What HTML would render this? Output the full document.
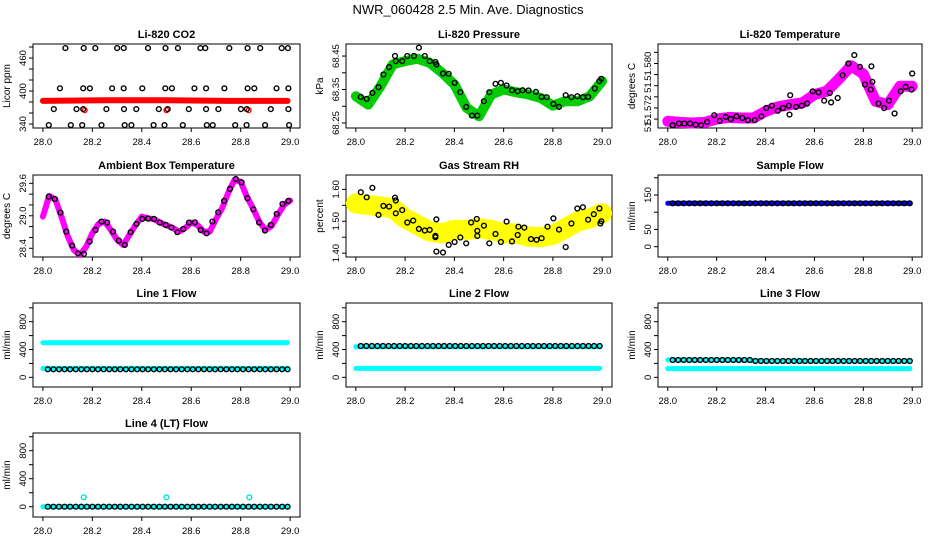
<!DOCTYPE html>
<html><head><meta charset="utf-8"><style>
html,body{margin:0;padding:0;background:#fff;}
svg{display:block;font-family:"Liberation Sans",Arial,sans-serif;}
</style></head><body>
<svg id="chart" width="936" height="540" viewBox="0 0 936 540" xmlns="http://www.w3.org/2000/svg">
<rect x="0" y="0" width="936" height="540" fill="#fff"/>
<text x="468" y="14" text-anchor="middle" font-size="13">NWR_060428  2.5 Min. Ave. Diagnostics</text>
</svg>
<script>
// ---------- data ----------
const xTicks=[28.0,28.2,28.4,28.6,28.8,29.0];
const xTickLabels=["28.0","28.2","28.4","28.6","28.8","29.0"];

const co2Times=[28.091,28.165,28.212,28.300,28.327,28.425,28.496,28.546,28.637,28.657,28.754,28.828,28.879,28.966,28.991,
28.069,28.163,28.190,28.280,28.327,28.402,28.495,28.522,28.613,28.660,28.734,28.828,28.855,28.945,28.993,
28.044,28.136,28.163,28.257,28.328,28.378,28.469,28.505,28.590,28.660,28.710,28.801,28.825,28.922,28.993,
28.024,28.113,28.159,28.237,28.331,28.358,28.448,28.492,28.566,28.663,28.687,28.778,28.824,28.899,28.996];
const co2Vals=[478,478,478,478,478,478,478,478,478,478,478,478,478,478,478,
405,405,405,405,405,405,405,405,405,405,405,405,405,405,405,
367,367,367,367,367,367,367,367,367,367,367,367,367,367,367,
338,338,338,338,338,338,338,338,338,338,338,338,338,338,338];
const co2RedTimes=[28.0,28.25,28.5,28.75,28.99];
const co2RedVals=[382,383,383,382,382];
const co2RedOutTimes=[28.169,28.5,28.832];
const co2RedOutVals=[365,365,365];

const bandTimes=[28.0,28.05,28.1,28.15,28.2,28.25,28.3,28.35,28.4,28.45,28.5,28.55,28.6,28.65,28.7,28.75,28.8,28.85,28.9,28.95,29.0];
const presGreen=[68.330,68.305,68.36,68.425,68.435,68.442,68.43,68.40,68.365,68.295,68.27,68.335,68.35,68.342,68.335,68.325,68.302,68.315,68.315,68.33,68.375];
const presTimes=[28.020,28.044,28.067,28.092,28.112,28.135,28.159,28.162,28.188,28.209,28.236,28.256,28.280,28.300,28.323,28.327,28.354,28.377,28.401,28.424,28.448,28.471,28.493,28.520,28.542,28.567,28.589,28.612,28.634,28.657,28.677,28.701,28.731,28.754,28.775,28.802,28.825,28.852,28.875,28.899,28.922,28.943,28.970,28.989,28.996];
const presVals=[68.328,68.322,68.340,68.357,68.395,68.417,68.450,68.435,68.435,68.450,68.450,68.475,68.450,68.435,68.432,68.425,68.398,68.397,68.370,68.342,68.298,68.272,68.272,68.315,68.342,68.367,68.370,68.362,68.348,68.345,68.348,68.347,68.343,68.328,68.327,68.307,68.298,68.333,68.327,68.330,68.327,68.328,68.353,68.375,68.382];

const tempMag=[51.5696,51.5694,51.5693,51.5694,51.5700,51.5703,51.5702,51.5702,51.5714,51.5722,51.5726,51.5729,51.5744,51.5750,51.5772,51.5796,51.5781,51.5732,51.5726,51.5759,51.5759];
const tempTimes=[28.020,28.046,28.068,28.091,28.114,28.136,28.161,28.190,28.213,28.237,28.258,28.281,28.305,28.328,28.356,28.383,28.403,28.426,28.450,28.471,28.495,28.501,28.498,28.525,28.548,28.570,28.593,28.617,28.640,28.663,28.668,28.695,28.715,28.739,28.763,28.786,28.807,28.833,28.830,28.837,28.862,28.885,28.905,28.928,28.953,28.973,29.000,28.997];
const tempVals=[51.5689,51.5692,51.5692,51.5692,51.5690,51.5689,51.5695,51.5707,51.5697,51.5704,51.5700,51.5705,51.5702,51.5698,51.5698,51.5705,51.5720,51.5724,51.5715,51.5720,51.5724,51.5743,51.5708,51.5722,51.5724,51.5728,51.5750,51.5748,51.5733,51.5747,51.5730,51.5738,51.5779,51.5800,51.5815,51.5794,51.5762,51.5795,51.5753,51.5767,51.5728,51.5720,51.5733,51.5710,51.5750,51.5758,51.5782,51.5753];

const ambTimes=[28.0,28.025,28.05,28.075,28.1,28.125,28.15,28.175,28.2,28.225,28.25,28.275,28.3,28.325,28.35,28.375,28.4,28.425,28.45,28.475,28.5,28.525,28.55,28.575,28.6,28.625,28.65,28.675,28.7,28.725,28.75,28.775,28.8,28.825,28.85,28.875,28.9,28.925,28.95,28.975,29.0];
const ambMag=[28.984,29.366,29.304,28.984,28.628,28.370,28.276,28.430,28.676,28.850,28.892,28.738,28.554,28.462,28.646,28.830,28.984,28.954,28.936,28.874,28.824,28.776,28.708,28.770,28.874,28.830,28.708,28.708,28.936,29.138,29.428,29.662,29.630,29.354,29.138,28.892,28.738,28.812,29.016,29.200,29.280];
const ambVals=[29.354,29.310,29.058,28.708,28.450,28.308,28.296,28.524,28.738,28.892,28.874,28.708,28.542,28.462,28.696,28.850,28.942,28.948,28.942,28.874,28.830,28.782,28.696,28.756,28.874,28.880,28.738,28.676,28.892,29.064,29.274,29.496,29.680,29.618,29.324,29.120,28.874,28.726,28.830,29.034,29.218,29.274];

const rhYellow=[1.556,1.551,1.546,1.541,1.509,1.489,1.468,1.462,1.473,1.473,1.478,1.473,1.462,1.462,1.452,1.450,1.457,1.478,1.499,1.509,1.525];
const rhTimes=[28.020,28.044,28.067,28.092,28.112,28.135,28.159,28.162,28.162,28.188,28.209,28.233,28.256,28.280,28.300,28.323,28.323,28.327,28.327,28.354,28.377,28.401,28.424,28.448,28.468,28.491,28.493,28.493,28.520,28.542,28.567,28.589,28.612,28.634,28.657,28.660,28.684,28.711,28.734,28.754,28.778,28.802,28.825,28.852,28.875,28.899,28.922,28.943,28.966,28.989,28.993,28.997];
const rhVals=[1.591,1.575,1.605,1.520,1.548,1.546,1.574,1.565,1.525,1.535,1.496,1.502,1.476,1.471,1.473,1.454,1.450,1.506,1.405,1.402,1.426,1.435,1.449,1.431,1.496,1.507,1.470,1.454,1.486,1.431,1.460,1.435,1.499,1.437,1.457,1.483,1.480,1.444,1.442,1.447,1.483,1.509,1.474,1.419,1.493,1.540,1.544,1.505,1.522,1.540,1.493,1.500];

const flowBandTimes=[28.0,28.1,28.2,28.3,28.4,28.5,28.6,28.7,28.8,28.9,28.99];
const sampleBlue=[126,126,126,126,126,126,126,126,126,126,126];
const sampleBlack=[126,126,126,126,126,126,126,126,126,126,126,126,126,126,126,126,126,126,126,126,126,126,126,126,126,126,126,126,126,126,126,126,126,126,126,126,126,126,126,126,126,126,126,126];
const line1CyanHi=[498,498,498,498,498,498,498,498,498,498,498];
const line1CyanLo=[129,129,129,129,129,129,129,129,129,129,129];
const line1Black=[115,115,115,115,115,115,115,115,115,115,115,115,115,115,115,115,115,115,115,115,115,115,115,115,115,115,115,115,115,115,115,115,115,115,115,115,115,115,115,115,115,115,115,115];
const line2CyanHi=[441,441,441,441,441,441,441,441,441,441,441];
const line2CyanLo=[129,129,129,129,129,129,129,129,129,129,129];
const line2Black=[450,450,450,450,450,450,450,450,450,450,450,450,450,450,450,450,450,450,450,450,450,450,450,450,450,450,450,450,450,450,450,450,450,450,450,450,450,450,450,450,450,450,450,450];
const line3CyanHi=[249,249,249,249,235,235,235,235,235,235,235];
const line3CyanLo=[125,125,125,125,125,125,125,125,125,125,125];
const line3Black=[249,249,249,249,249,249,249,249,249,249,249,249,249,249,249,235,235,235,235,235,235,235,235,235,235,235,235,235,235,235,235,235,235,235,235,235,235,235,235,235,235,235,235,235];
const line4Cyan=[0,0,0,0,0,0,0,0,0,0,0];
const line4Black=[0,0,0,0,0,0,0,0,0,0,0,0,0,0,0,0,0,0,0,0,0,0,0,0,0,0,0,0,0,0,0,0,0,0,0,0,0,0,0,0,0,0,0,0];
const line4OutTimes=[28.165,28.5,28.835];
const line4OutVals=[134,134,134];

const co2YTicks=[340,360,380,400,420,440,460,480];
const co2YLabels=["340","","","400","","","460",""];
const presYTicks=[68.25,68.30,68.35,68.40,68.45];
const presYLabels=["68.25","","68.35","","68.45"];
const tempYTicks=[51.570,51.572,51.574,51.576,51.578,51.580,51.582];
const tempYLabelVals=[51.5686,51.5717,51.5759,51.5795];
const tempYLabels=["51","51.572","51.","51.580"];
const ambYTicks=[28.4,28.6,28.8,29.0,29.2,29.4,29.6];
const ambYLabels=["28.4","","","29.0","","","29.6"];
const rhYTicks=[1.40,1.45,1.50,1.55,1.60];
const rhYLabels=["1.40","","1.50","","1.60"];
const sfYTicks=[0,50,100,150,200];
const sfYLabels=["0","50","","150",""];
const flowYTicks=[0,200,400,600,800,1000];
const flowYLabels=["0","","400","","800",""];

// ---------- drawing ----------
const svg=document.getElementById('chart');
const NS='http://www.w3.org/2000/svg';
function el(tag,parent){const e=document.createElementNS(NS,tag);parent.appendChild(e);return e;}
function seqTimes(n){const a=[];for(let i=0;i<n;i++)a.push(28.02+i*0.97/(n-1));return a;}

function makePanel(name,title,ytitle,box,ymin,ymax,yt,yl){
  const g=el('g',svg);
  
  
  const xmin=27.96,xmax=29.04;
  const sx=v=>box[0]+(v-xmin)/(xmax-xmin)*(box[2]-box[0]);
  const sy=v=>box[3]-(v-ymin)/(ymax-ymin)*(box[3]-box[1]);
  const r=el('rect',g);
  
  
  r.setAttribute('x',box[0]);r.setAttribute('y',box[1]);r.setAttribute('width',box[2]-box[0]);r.setAttribute('height',box[3]-box[1]);
  r.setAttribute('fill','none');r.setAttribute('stroke','#000');r.setAttribute('stroke-width','1');
  const t=el('text',g);
  
  
  t.setAttribute('x',(box[0]+box[2])/2);t.setAttribute('y',box[1]-6);t.setAttribute('text-anchor','middle');
  t.setAttribute('font-size','11');t.setAttribute('font-weight','bold');t.textContent=title;
  const yt2=el('text',g);
  
  
  const cy=(box[1]+box[3])/2, tx=box[0]-23;
  yt2.setAttribute('x',tx);yt2.setAttribute('y',cy);yt2.setAttribute('text-anchor','middle');
  yt2.setAttribute('font-size','10');yt2.setAttribute('transform','rotate(-90 '+tx+' '+cy+')');yt2.textContent=ytitle;
  // x axis
  xTicks.forEach((v,i)=>{
    const x=sx(v);
    const l=el('line',g);
    
    
    l.setAttribute('x1',x);l.setAttribute('x2',x);l.setAttribute('y1',box[3]);l.setAttribute('y2',box[3]+4);l.setAttribute('stroke','#000');
    const tl=el('text',g);
    
    
    tl.setAttribute('x',x);tl.setAttribute('y',box[3]+17);tl.setAttribute('text-anchor','middle');tl.setAttribute('font-size','9.5');
    tl.textContent=xTickLabels[i];
  });
  yt.forEach((v,i)=>{
    const y=sy(v);
    const l=el('line',g);
    
    
    l.setAttribute('x1',box[0]);l.setAttribute('x2',box[0]-4);l.setAttribute('y1',y);l.setAttribute('y2',y);l.setAttribute('stroke','#000');
    if(yl && yl[i]){
      const tl=el('text',g);
      
      
      const lx=box[0]-7;
      tl.setAttribute('x',lx);tl.setAttribute('y',y);tl.setAttribute('text-anchor','middle');tl.setAttribute('font-size','9.5');
      tl.setAttribute('transform','rotate(-90 '+lx+' '+y+')');tl.textContent=yl[i];
    }
  });
  return {g,sx,sy,box};
}
function band(p,times,vals,color,w,name){
  const pl=el('polyline',p.g);
  
  
  pl.setAttribute('points',times.map((t,i)=>p.sx(t).toFixed(1)+','+p.sy(vals[i]).toFixed(1)).join(' '));
  pl.setAttribute('fill','none');pl.setAttribute('stroke',color);pl.setAttribute('stroke-width',w);
  pl.setAttribute('stroke-linejoin','round');pl.setAttribute('stroke-linecap','round');
}
function points(p,times,vals,color,name){
  const gg=el('g',p.g);
  
  
  times.forEach((t,i)=>{
    const c=el('circle',gg);
    
    
    c.setAttribute('cx',p.sx(t).toFixed(1));c.setAttribute('cy',p.sy(vals[i]).toFixed(1));c.setAttribute('r','2.4');
    c.setAttribute('fill','none');c.setAttribute('stroke',color);c.setAttribute('stroke-width','1.4');
  });
}
const C1=33,C1R=300,C2=346,C2R=612,C3=658,C3R=922;
const R1=[44,128],R2=[175,257],R3=[303,387],R4=[433,517];

let p;
p=makePanel('panel-co2','Li-820 CO2','Licor ppm',[C1,R1[0],C1R,R1[1]],332.7,485.5,co2YTicks,co2YLabels);
band(p,co2RedTimes,co2RedVals,'#ff0000',6,'co2-red-series');
points(p,co2RedOutTimes,co2RedOutVals,'#ff0000','co2-red-outliers');
points(p,co2Times,co2Vals,'#000','co2-black-series');

p=makePanel('panel-pressure','Li-820 Pressure','kPa',[C2,R1[0],C2R,R1[1]],68.235,68.486,presYTicks,presYLabels);
band(p,bandTimes,presGreen,'#00cc00',10,'pressure-green-series');
points(p,presTimes,presVals,'#000','pressure-black-series');

p=makePanel('panel-temperature','Li-820 Temperature','degrees C',[C3,R1[0],C3R,R1[1]],51.5684,51.5835,tempYTicks,null);
tempYLabelVals.forEach((v,i)=>{
  const y=p.sy(v),lx=C3-7;
  const tl=el('text',p.g);
  
  
  tl.setAttribute('x',lx);tl.setAttribute('y',y);tl.setAttribute('text-anchor','middle');tl.setAttribute('font-size','9.5');
  tl.setAttribute('transform','rotate(-90 '+lx+' '+y+')');tl.textContent=tempYLabels[i];
});
band(p,bandTimes,tempMag,'#ff00ff',11,'temperature-magenta-series');
points(p,tempTimes,tempVals,'#000','temperature-black-series');

p=makePanel('panel-ambient','Ambient Box Temperature','degrees C',[C1,R2[0],C1R,R2[1]],28.239,29.753,ambYTicks,ambYLabels);
band(p,ambTimes,ambMag,'#ff00ff',6,'ambient-magenta-series');
points(p,seqTimes(ambVals.length).map((t,i)=>28.024+i*0.02363),ambVals,'#000','ambient-black-series');

p=makePanel('panel-rh','Gas Stream RH','percent',[C2,R2[0],C2R,R2[1]],1.388,1.645,rhYTicks,rhYLabels);
band(p,bandTimes,rhYellow,'#ffff00',20,'rh-yellow-series');
points(p,rhTimes,rhVals,'#000','rh-black-series');

p=makePanel('panel-sample-flow','Sample Flow','ml/min',[C3,R2[0],C3R,R2[1]],-30,208,sfYTicks,sfYLabels);
band(p,flowBandTimes,sampleBlue,'#0000ff',5,'sample-flow-blue-series');
points(p,seqTimes(sampleBlack.length),sampleBlack,'#000','sample-flow-black-series');

p=makePanel('panel-line1','Line 1 Flow','ml/min',[C1,R3[0],C1R,R3[1]],-139,1069,flowYTicks,flowYLabels);
band(p,flowBandTimes,line1CyanHi,'#00ffff',5,'line1-cyan-upper');
band(p,flowBandTimes,line1CyanLo,'#00ffff',5,'line1-cyan-lower');
points(p,seqTimes(line1Black.length),line1Black,'#000','line1-black-series');

p=makePanel('panel-line2','Line 2 Flow','ml/min',[C2,R3[0],C2R,R3[1]],-139,1069,flowYTicks,flowYLabels);
band(p,flowBandTimes,line2CyanHi,'#00ffff',5,'line2-cyan-upper');
band(p,flowBandTimes,line2CyanLo,'#00ffff',5,'line2-cyan-lower');
points(p,seqTimes(line2Black.length),line2Black,'#000','line2-black-series');

p=makePanel('panel-line3','Line 3 Flow','ml/min',[C3,R3[0],C3R,R3[1]],-139,1069,flowYTicks,flowYLabels);
band(p,flowBandTimes,line3CyanHi,'#00ffff',5,'line3-cyan-upper');
band(p,flowBandTimes,line3CyanLo,'#00ffff',5,'line3-cyan-lower');
points(p,seqTimes(line3Black.length),line3Black,'#000','line3-black-series');

p=makePanel('panel-line4','Line 4 (LT) Flow','ml/min',[C1,R4[0],C1R,R4[1]],-147,1053,flowYTicks,flowYLabels);
band(p,flowBandTimes,line4Cyan,'#00ffff',5,'line4-cyan-series');
points(p,line4OutTimes,line4OutVals,'#00e0e0','line4-cyan-outliers');
points(p,seqTimes(line4Black.length),line4Black,'#000','line4-black-series');
</script>
</body></html>
